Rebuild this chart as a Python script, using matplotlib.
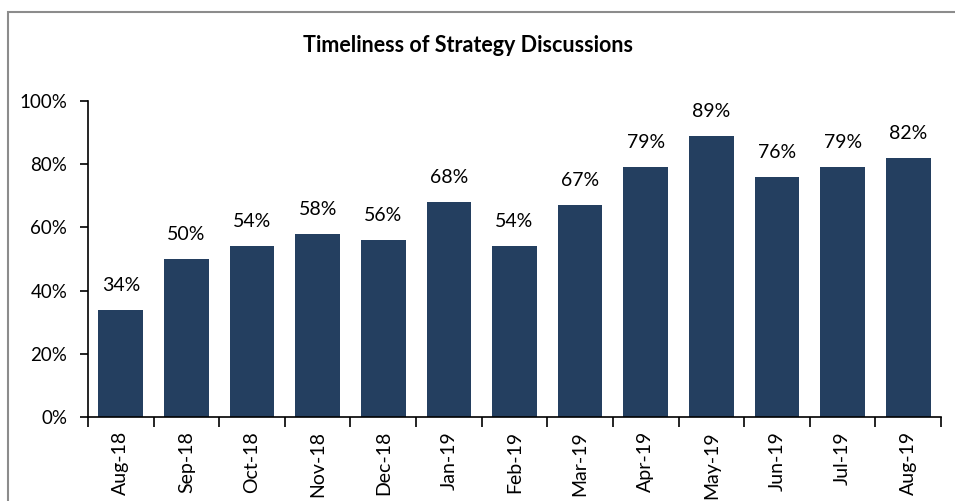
import numpy as np
import matplotlib.pyplot as plt
from matplotlib.patches import Rectangle

# monthly share of strategy discussions held on time
months = ["Aug-18", "Sep-18", "Oct-18", "Nov-18", "Dec-18", "Jan-19", "Feb-19",
          "Mar-19", "Apr-19", "May-19", "Jun-19", "Jul-19", "Aug-19"]
timely_pct = [34, 50, 54, 58, 56, 68, 54, 67, 79, 89, 76, 79, 82]

plt.rcParams['font.family'] = ['Lato', 'DejaVu Sans']

fig = plt.figure(figsize=(9.55, 5.01), dpi=100)
ax = fig.add_axes([88 / 955, 1 - 417 / 501, 853 / 955, 316 / 501])

# gray frame around the chart area (runs off the right/bottom edge)
fig.patches.append(Rectangle((8 / 955, -0.05), 1.0, 1 - 11.5 / 501 + 0.05,
                             transform=fig.transFigure, fill=False,
                             edgecolor='#8c8c8c', linewidth=1.5))

x = np.arange(len(months))
vals = np.array(timely_pct) / 100
ax.bar(x, vals, width=0.68, color='#243F60')

for xi, v in zip(x, timely_pct):
    ax.annotate(f"{v}%", xy=(xi, v / 100), xytext=(0, 11.5), textcoords="offset points",
                ha='center', va='bottom', fontsize=14)

ax.set_xlim(-0.5, len(months) - 0.5)
ax.set_ylim(0, 1)
ax.set_yticks(np.arange(0, 1.01, 0.2))
ax.set_yticklabels([f"{int(round(t * 100))}%" for t in np.arange(0, 1.01, 0.2)], fontsize=13.5)

# x ticks sit between the bars, labels centred under bars
ax.set_xticks(np.arange(-0.5, len(months), 1.0))
ax.set_xticklabels([])
ax.set_xticks(x, minor=True)
ax.set_xticklabels(months, minor=True, rotation=90, fontsize=14)
ax.tick_params(axis='x', which='major', length=7, width=1.2, direction='out')
ax.tick_params(axis='x', which='minor', length=0, pad=10)
ax.tick_params(axis='y', length=6, width=1.2, direction='out', pad=9)

for side in ['top', 'right']:
    ax.spines[side].set_visible(False)
for side in ['left', 'bottom']:
    ax.spines[side].set_linewidth(1.2)

fig.text(468 / 955, 1 - 45 / 501, "Timeliness of Strategy Discussions",
         ha='center', va='center', fontsize=15.5, fontweight='bold')

fig.savefig("out.png", dpi=100)
